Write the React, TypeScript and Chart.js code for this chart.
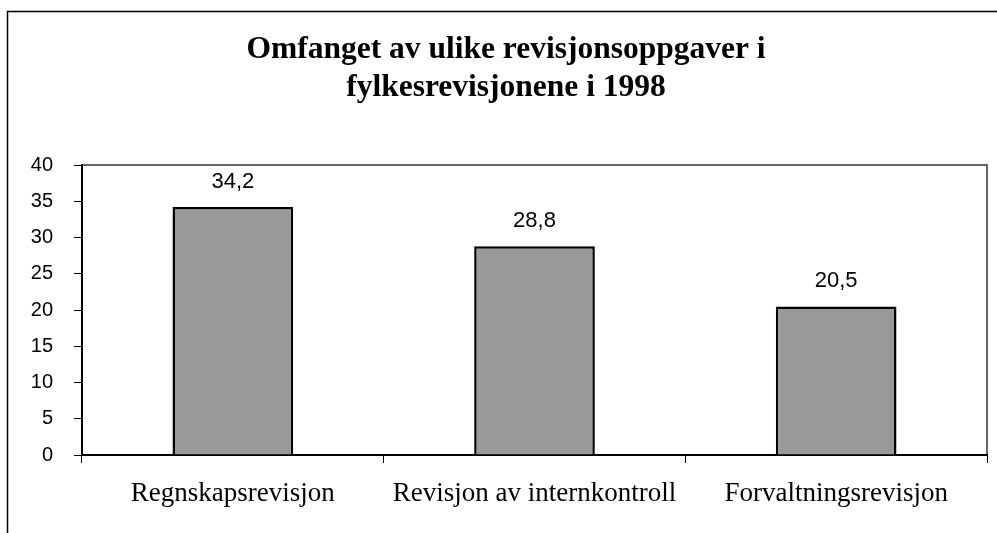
import React, { useEffect, useRef } from "react";
import { Chart, registerables } from "chart.js";

Chart.register(...registerables);

const categories = ["Regnskapsrevisjon", "Revisjon av internkontroll", "Forvaltningsrevisjon"];
const values = [34.2, 28.8, 20.5];
const titleLines = ["Omfanget av ulike revisjonsoppgaver i", "fylkesrevisjonene i 1998"];
const yMin = 0;
const yMax = 40;
const yStep = 5;

const SANS = "'Liberation Sans', Arial, sans-serif";
const SERIF = "'Liberation Serif', 'Times New Roman', serif";

const framePlugin = {
  id: "framePlugin",
  beforeDraw(chart: any) {
    const { ctx, chartArea } = chart;
    ctx.save();
    // outer frame (clipped at right/bottom)
    ctx.strokeStyle = "#000";
    ctx.lineWidth = 1.5;
    ctx.beginPath();
    ctx.moveTo(7.5, chart.height + 2);
    ctx.lineTo(7.5, 11.5);
    ctx.lineTo(chart.width + 2, 11.5);
    ctx.stroke();
    // plot area border
    ctx.strokeStyle = "#666";
    ctx.lineWidth = 2;
    ctx.strokeRect(chartArea.left, chartArea.top, chartArea.right - chartArea.left, chartArea.bottom - chartArea.top);
    // title
    ctx.fillStyle = "#000";
    ctx.font = `bold 31.5px ${SERIF}`;
    ctx.textAlign = "center";
    ctx.textBaseline = "alphabetic";
    const baselines = [58, 96];
    titleLines.forEach((line, i) => {
      ctx.fillText(line, 506, baselines[i]);
    });
    ctx.restore();
  },
};

const labelPlugin = {
  id: "valueLabels",
  afterDatasetsDraw(chart: any) {
    const { ctx } = chart;
    const meta = chart.getDatasetMeta(0);
    ctx.save();
    ctx.font = `22px ${SANS}`;
    ctx.fillStyle = "#000";
    ctx.textAlign = "center";
    ctx.textBaseline = "alphabetic";
    meta.data.forEach((bar: any, i: number) => {
      const v = values[i];
      ctx.fillText(v.toFixed(1).replace(".", ","), bar.x, bar.y - 19);
    });
    ctx.restore();
  },
};

export default function App() {
  const ref = useRef<HTMLCanvasElement | null>(null);
  useEffect(() => {
    if (!ref.current) return;
    const chart = new Chart(ref.current, {
      type: "bar",
      data: {
        labels: categories,
        datasets: [
          {
            data: values,
            backgroundColor: "#999999",
            borderColor: "#000",
            borderWidth: 2.5,
            barPercentage: 0.4,
            categoryPercentage: 1,
          },
        ],
      },
      options: {
        responsive: false,
        animation: false,
        layout: { padding: { left: 0, right: 10, top: 165, bottom: 0 } },
        plugins: {
          legend: { display: false },
          tooltip: { enabled: false },
          title: { display: false },
        },
        scales: {
          x: {
            grid: {
              offset: true,
              drawOnChartArea: false,
              drawTicks: true,
              tickLength: 8,
              color: "#000",
              lineWidth: 1,
            },
            border: { display: true, color: "#000", width: 2 },
            ticks: {
              color: "#000",
              font: { family: SERIF, size: 27 },
              padding: 15,
              maxRotation: 0,
              autoSkip: false,
            },
            afterFit: (scale: any) => {
              scale.height = 78;
            },
          },
          y: {
            min: yMin,
            max: yMax,
            grid: {
              drawOnChartArea: false,
              drawTicks: true,
              tickLength: 8,
              color: "#000",
              lineWidth: 1,
            },
            border: { display: true, color: "#000", width: 2 },
            ticks: {
              stepSize: yStep,
              color: "#000",
              font: { family: SANS, size: 20 },
              padding: 21,
            },
            afterFit: (scale: any) => {
              scale.width = 82;
            },
          },
        },
      },
      plugins: [framePlugin, labelPlugin],
    });
    return () => chart.destroy();
  }, []);
  return (
    <div style={{ position: "fixed", left: 0, top: 0, width: 997, height: 533, overflow: "hidden", background: "#fff" }}>
      <canvas ref={ref} width={997} height={533} style={{ display: "block" }} />
    </div>
  );
}
